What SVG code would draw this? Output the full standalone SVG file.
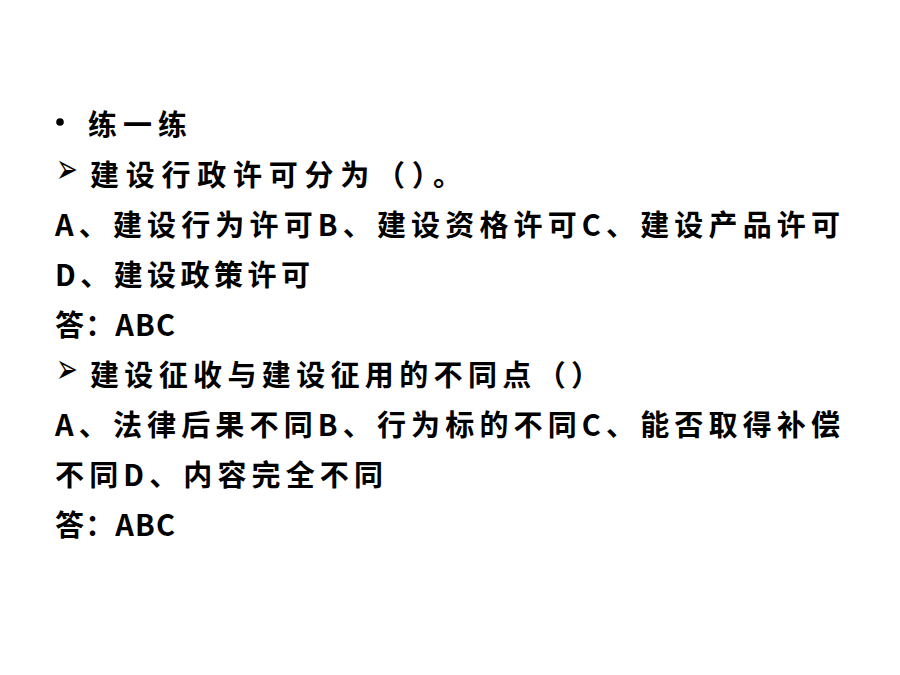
<svg xmlns="http://www.w3.org/2000/svg" width="900" height="675" viewBox="0 0 900 675">
<style>
.t{font-family:"Noto Sans CJK SC","Noto Sans",sans-serif;font-size:29px;font-weight:700;fill:#000}
.s{font-family:"DejaVu Sans",sans-serif;font-size:26px;fill:#000}
</style>
<rect width="900" height="675" fill="#fff"/>
<g id="line1">
<circle cx="60" cy="122" r="3.8" fill="#000"/>
<text class="t" x="88" y="136" textLength="99" lengthAdjust="spacing">练一练</text>
</g>
<g id="line2">
<text class="s" transform="translate(56,183) scale(1,1.6)">➢</text>
<text class="t" x="90" y="186" textLength="372" lengthAdjust="spacing">建设行政许可分为（）。</text>
</g>
<g id="line3">
<text class="t" x="55" y="236" textLength="785" lengthAdjust="spacing">A、建设行为许可B、建设资格许可C、建设产品许可</text>
</g>
<g id="line4">
<text class="t" x="55" y="286" textLength="255" lengthAdjust="spacing">D、建设政策许可</text>
</g>
<g id="line5">
<text class="t" x="55" y="336" textLength="120" lengthAdjust="spacing">答：ABC</text>
</g>
<g id="line6">
<text class="s" transform="translate(56,383) scale(1,1.6)">➢</text>
<text class="t" x="90" y="386" textLength="510" lengthAdjust="spacing">建设征收与建设征用的不同点（）</text>
</g>
<g id="line7">
<text class="t" x="55" y="436" textLength="785" lengthAdjust="spacing">A、法律后果不同B、行为标的不同C、能否取得补偿</text>
</g>
<g id="line8">
<text class="t" x="55" y="486" textLength="328" lengthAdjust="spacing">不同D、内容完全不同</text>
</g>
<g id="line9">
<text class="t" x="55" y="536" textLength="120" lengthAdjust="spacing">答：ABC</text>
</g>
</svg>
